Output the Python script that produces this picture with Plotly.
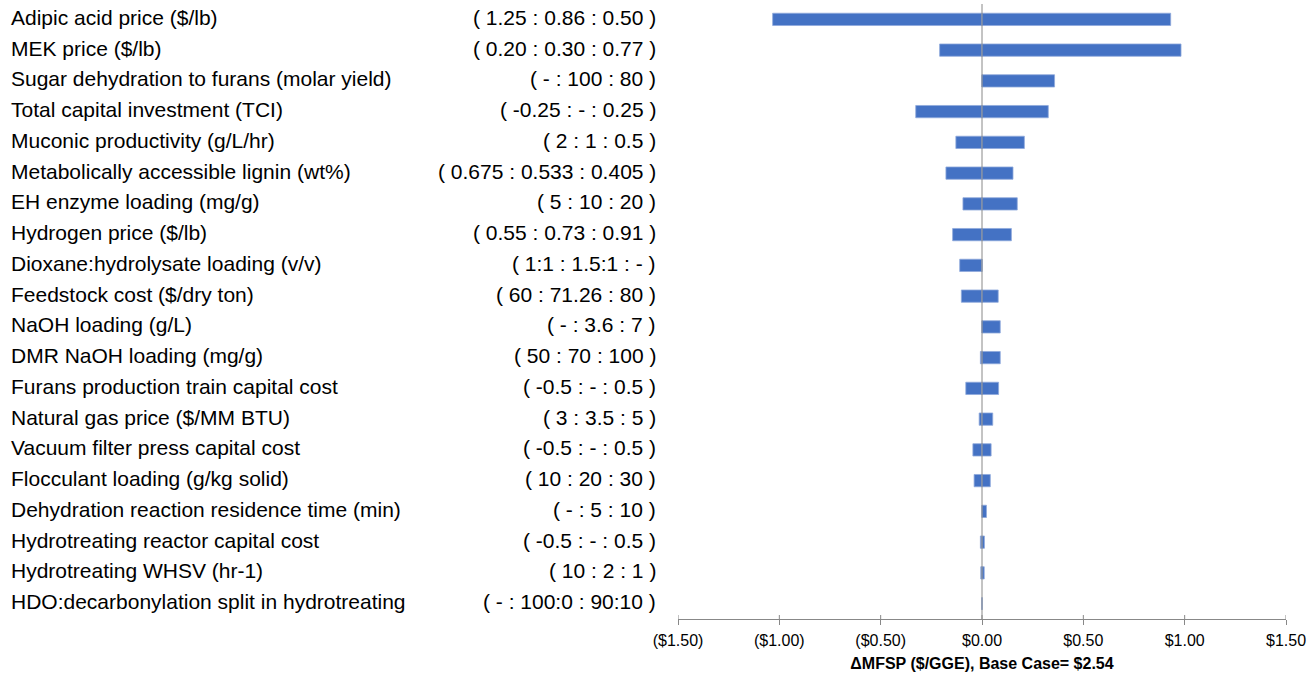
import plotly.graph_objects as go

# Sensitivity parameters (top to bottom) with their (low : base : high) ranges
parameters = [
    "Adipic acid price ($/lb)",
    "MEK price ($/lb)",
    "Sugar dehydration to furans (molar yield)",
    "Total capital investment (TCI)",
    "Muconic productivity (g/L/hr)",
    "Metabolically accessible lignin (wt%)",
    "EH enzyme loading (mg/g)",
    "Hydrogen price ($/lb)",
    "Dioxane:hydrolysate loading (v/v)",
    "Feedstock cost ($/dry ton)",
    "NaOH loading (g/L)",
    "DMR NaOH loading (mg/g)",
    "Furans production train capital cost",
    "Natural gas price ($/MM BTU)",
    "Vacuum filter press capital cost",
    "Flocculant loading (g/kg solid)",
    "Dehydration reaction residence time (min)",
    "Hydrotreating reactor capital cost",
    "Hydrotreating WHSV (hr-1)",
    "HDO:decarbonylation split in hydrotreating",
]
ranges = [
    "( 1.25 : 0.86 : 0.50 )",
    "( 0.20 : 0.30 : 0.77 )",
    "( - : 100 : 80 )",
    "( -0.25 : - : 0.25 )",
    "( 2 : 1 : 0.5 )",
    "( 0.675 : 0.533 : 0.405 )",
    "( 5 : 10 : 20 )",
    "( 0.55 : 0.73 : 0.91 )",
    "( 1:1 : 1.5:1 : - )",
    "( 60 : 71.26 : 80 )",
    "( - : 3.6 : 7 )",
    "( 50 : 70 : 100 )",
    "( -0.5 : - : 0.5 )",
    "( 3 : 3.5 : 5 )",
    "( -0.5 : - : 0.5 )",
    "( 10 : 20 : 30 )",
    "( - : 5 : 10 )",
    "( -0.5 : - : 0.5 )",
    "( 10 : 2 : 1 )",
    "( - : 100:0 : 90:10 )",
]
# Change in MFSP ($/GGE) for the decreasing and increasing side of each parameter
delta_low = [-1.033, -0.209, 0.0, -0.327, -0.129, -0.178, -0.094, -0.145, -0.110, -0.102,
             0.0, -0.008, -0.080, -0.014, -0.045, -0.039, 0.0, -0.008, -0.006, 0.0]
delta_high = [0.931, 0.982, 0.358, 0.327, 0.209, 0.153, 0.174, 0.145, 0.0, 0.080,
              0.090, 0.090, 0.082, 0.053, 0.045, 0.041, 0.022, 0.012, 0.011, 0.0]

tick_vals = [-1.5, -1.0, -0.5, 0.0, 0.5, 1.0, 1.5]
tick_labels = ["($1.50)", "($1.00)", "($0.50)", "$0.00", "$0.50", "$1.00", "$1.50"]
x_title = "ΔMFSP ($/GGE), Base Case= $2.54"

BAR = "#4472C4"
GREY = "#888888"
FONT = "Arial, Liberation Sans, sans-serif"

W, H = 1314, 676
ML, MR, MT, MB = 678, 28, 4, 57
plot_w = W - ML - MR
plot_h = H - MT - MB

rows = list(range(len(parameters)))

fig = go.Figure()
for vals in (delta_low, delta_high):
    fig.add_trace(go.Bar(
        y=rows, x=vals, orientation="h",
        marker=dict(color=BAR, line=dict(color="#8FAADC", width=0.8)),
        showlegend=False, hoverinfo="x",
    ))

# Parameter names (left aligned) and ranges (right aligned) beside the bars
def px_to_paper(px):
    return (px - ML) / plot_w

annotations = []
for i, (name, rng) in enumerate(zip(parameters, ranges)):
    annotations.append(dict(
        x=px_to_paper(9), xref="paper", y=i, yref="y", text=name,
        xanchor="left", yanchor="middle", showarrow=False, yshift=2,
        font=dict(family=FONT, size=21, color="#000000"),
    ))
    annotations.append(dict(
        x=px_to_paper(658), xref="paper", y=i, yref="y", text=rng,
        xanchor="right", yanchor="middle", showarrow=False, yshift=2,
        font=dict(family=FONT, size=21, color="#000000"),
    ))

# Zero reference line over the bars, plus the short upper half of each cross tick
shapes = [dict(
    type="line", xref="x", yref="paper", x0=0, x1=0, y0=0, y1=1,
    line=dict(color=GREY, width=1), layer="above",
)]
for tv in tick_vals:
    shapes.append(dict(
        type="line", xref="x", yref="paper", x0=tv, x1=tv, y0=0, y1=4 / plot_h,
        line=dict(color=GREY, width=1), layer="above",
    ))

fig.update_layout(
    width=W, height=H,
    margin=dict(l=ML, r=MR, t=MT, b=MB),
    paper_bgcolor="white", plot_bgcolor="white",
    barmode="overlay", bargap=0.6,
    font=dict(family=FONT, color="#000000"),
    annotations=annotations,
    shapes=shapes,
    xaxis=dict(
        range=[-1.5, 1.5], tickvals=tick_vals, ticktext=tick_labels,
        showgrid=False, zeroline=False,
        showline=True, linecolor=GREY, linewidth=1,
        ticks="outside", ticklen=5, tickcolor=GREY, tickwidth=1,
        ticklabelstandoff=2,
        tickfont=dict(family=FONT, size=16, color="#000000"),
        title=dict(text="<b>" + x_title + "</b>", standoff=9,
                   font=dict(family=FONT, size=16, color="#000000")),
    ),
    yaxis=dict(
        range=[len(parameters) - 0.5, -0.5],
        showgrid=False, zeroline=False, showline=False,
        showticklabels=False, ticks="",
    ),
)

fig.write_html("out.html")
